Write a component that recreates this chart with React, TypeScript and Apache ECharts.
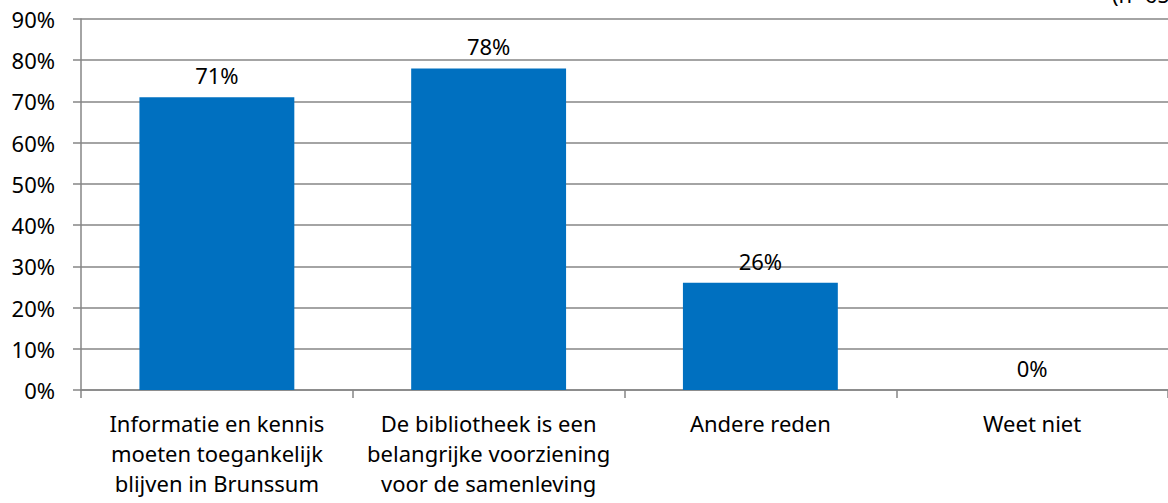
import React, { useEffect, useRef } from "react";
import * as echarts from "echarts";

const categories = [
  "Informatie en kennis\nmoeten toegankelijk\nblijven in Brunssum",
  "De bibliotheek is een\nbelangrijke voorziening\nvoor de samenleving",
  "Andere reden",
  "Weet niet",
];
const values = [71, 78, 26, 0];
const noteText = "(n=65)";

export default function App() {
  const ref = useRef<HTMLDivElement>(null);
  useEffect(() => {
    if (!ref.current) return;
    const chart = echarts.init(ref.current, null, { renderer: "svg" });
    const font = "'Noto Sans', 'Open Sans', sans-serif";
    const grey = "#868686";
    chart.setOption({
      animation: false,
      textStyle: { fontFamily: font },
      grid: { left: 81, right: -5, top: 19, bottom: 113, containLabel: false },
      xAxis: {
        type: "category",
        data: categories,
        axisLine: { lineStyle: { color: grey, width: 1.5 } },
        axisTick: { show: true, length: 8, lineStyle: { color: grey, width: 1.5 } },
        axisLabel: {
          color: "#000",
          fontSize: 22,
          fontFamily: font,
          lineHeight: 30,
          margin: 18,
          interval: 0,
        },
      },
      yAxis: {
        type: "value",
        min: 0,
        max: 90,
        interval: 10,
        axisLine: { show: true, lineStyle: { color: grey, width: 1.5 } },
        axisTick: { show: true, length: 8, lineStyle: { color: grey, width: 1.5 } },
        splitLine: { lineStyle: { color: grey, width: 1.5 } },
        axisLabel: {
          formatter: "{value}%",
          color: "#000",
          fontSize: 22,
          fontFamily: font,
          margin: 26,
        },
      },
      series: [
        {
          type: "bar",
          data: values,
          barWidth: "57%",
          itemStyle: { color: "#0070C0" },
          label: {
            show: true,
            position: "top",
            distance: 11,
            formatter: "{c}%",
            color: "#000",
            fontSize: 22,
            fontFamily: font,
          },
        },
      ],
      graphic: [
        {
          type: "text",
          left: 1112,
          top: -17,
          style: { text: noteText, fontSize: 22, fontFamily: font, fill: "#000" },
        },
      ],
    });
    return () => chart.dispose();
  }, []);
  return (
    <div
      ref={ref}
      style={{ position: "absolute", left: 0, top: 0, width: 1168, height: 503 }}
    />
  );
}
